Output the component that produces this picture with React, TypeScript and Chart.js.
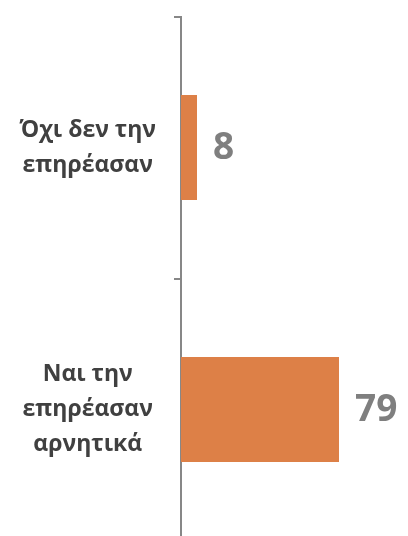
import React, { useEffect, useRef } from "react";
import { Chart, registerables } from "chart.js";

Chart.register(...registerables);

const categories: string[][] = [
  ["Όχι δεν την", "επηρέασαν"],
  ["Ναι την", "επηρέασαν", "αρνητικά"],
];
const values: number[] = [8, 79];

const BAR_COLOR = "#DD8047";
const AXIS_COLOR = "#878787";
const LABEL_COLOR = "#404040";
const VALUE_COLOR = "#7F7F7F";

const valueLabels = {
  id: "valueLabels",
  afterDatasetsDraw(chart: any) {
    const ctx = chart.ctx;
    const meta = chart.getDatasetMeta(0);
    ctx.save();
    ctx.font = "bold 37px 'Open Sans'";
    ctx.fillStyle = VALUE_COLOR;
    ctx.textAlign = "left";
    ctx.textBaseline = "middle";
    meta.data.forEach((bar: any, i: number) => {
      ctx.fillText(String(values[i]), bar.x + 16, bar.y + 1);
    });
    ctx.restore();
  },
};

export default function App() {
  const ref = useRef<HTMLCanvasElement | null>(null);
  useEffect(() => {
    if (!ref.current) return;
    const chart = new Chart(ref.current, {
      type: "bar",
      data: {
        labels: categories,
        datasets: [
          {
            data: values,
            backgroundColor: BAR_COLOR,
            borderWidth: 0,
            barPercentage: 0.4,
            categoryPercentage: 1,
          },
        ],
      },
      options: {
        indexAxis: "y",
        responsive: false,
        animation: false,
        layout: { padding: { top: 16.5, bottom: 4.5, right: 27, left: 0 } },
        plugins: {
          legend: { display: false },
          tooltip: { enabled: false },
        },
        scales: {
          x: {
            display: false,
            min: 0,
            max: 100,
          },
          y: {
            afterFit: (scale: any) => {
              scale.width = 181;
              scale.paddingTop = 0;
              scale.paddingBottom = 0;
            },
            border: { display: true, color: AXIS_COLOR, width: 2 },
            grid: {
              display: true,
              drawOnChartArea: false,
              drawTicks: true,
              tickLength: 7,
              color: AXIS_COLOR,
              lineWidth: 2,
              offset: true,
            },
            ticks: {
              crossAlign: "center",
              padding: 18,
              color: LABEL_COLOR,
              font: { family: "'Open Sans'", size: 23, weight: "bold", lineHeight: 1.52 },
            },
          },
        },
      },
      plugins: [valueLabels],
    });
    return () => chart.destroy();
  }, []);
  return (
    <div
      style={{
        position: "fixed",
        left: 0,
        top: 0,
        width: 408,
        height: 536,
        overflow: "hidden",
        background: "#fff",
      }}
    >
      <canvas ref={ref} width={408} height={545} style={{ display: "block" }} />
    </div>
  );
}
